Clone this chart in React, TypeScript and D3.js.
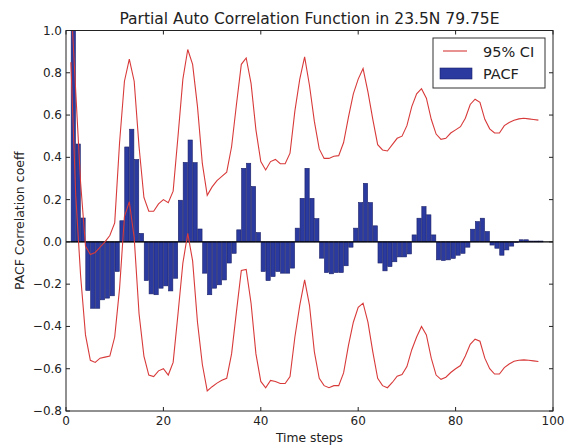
import React from "react";
import * as d3 from "d3";

// PACF values for lags 1..97 (bar spans lag .. lag+1)
const pacf = [
  1.0, 0.463, 0.113, -0.23, -0.314, -0.314, -0.274, -0.266, -0.255, -0.14,
  0.1, 0.449, 0.533, 0.39, 0.04, -0.183, -0.246, -0.25, -0.219, -0.208,
  -0.232, -0.172, 0.197, 0.376, 0.482, 0.375, 0.061, -0.148, -0.25, -0.219,
  -0.203, -0.18, -0.1, -0.054, 0.057, 0.348, 0.372, 0.262, 0.044, -0.14,
  -0.183, -0.164, -0.14, -0.148, -0.148, -0.124, 0.065, 0.206, 0.348, 0.206,
  0.11, -0.077, -0.145, -0.151, -0.145, -0.145, -0.113, -0.025, 0.065, 0.186,
  0.277, 0.186, 0.076, -0.1, -0.137, -0.117, -0.094, -0.071, -0.071, -0.057,
  0.033, 0.112, 0.167, 0.128, 0.033, -0.085, -0.088, -0.085, -0.078, -0.063,
  -0.054, -0.025, 0.06, 0.096, 0.112, 0.049, -0.015, -0.03, -0.063, -0.038,
  -0.02, 0.0, 0.01, 0.01, 0.004, 0.004, 0.004,
];

// 95% CI bounds at x = 1..97
const ciUpper = [
  1.15, 0.71, 0.28, -0.02, -0.06, -0.05, -0.025, 0.0, 0.03, 0.09,
  0.47, 0.76, 0.865, 0.76, 0.45, 0.21, 0.145, 0.145, 0.18, 0.2,
  0.185, 0.24, 0.5, 0.77, 0.91, 0.84, 0.64, 0.37, 0.22, 0.26,
  0.29, 0.31, 0.33, 0.45, 0.65, 0.84, 0.87, 0.75, 0.53, 0.38,
  0.34, 0.38, 0.39, 0.37, 0.37, 0.42, 0.62, 0.77, 0.875, 0.74,
  0.57, 0.44, 0.395, 0.395, 0.405, 0.408, 0.47, 0.59, 0.7, 0.77,
  0.82, 0.71, 0.58, 0.46, 0.435, 0.43, 0.46, 0.49, 0.5, 0.55,
  0.64, 0.7, 0.725, 0.68, 0.58, 0.51, 0.485, 0.49, 0.515, 0.53,
  0.545, 0.585, 0.65, 0.675, 0.66, 0.58, 0.535, 0.515, 0.515, 0.55,
  0.565, 0.575, 0.582, 0.585, 0.582, 0.579, 0.576,
];

const ciLower = [
  0.85, 0.22, -0.16, -0.44, -0.56, -0.57, -0.55, -0.545, -0.54, -0.45,
  -0.22, 0.12, 0.19, 0.02, -0.34, -0.54, -0.63, -0.637, -0.61, -0.6,
  -0.63, -0.57, -0.34, -0.1, 0.04, -0.09, -0.38, -0.58, -0.705, -0.685,
  -0.668, -0.655, -0.645, -0.53, -0.33, -0.135, -0.13, -0.29, -0.53, -0.66,
  -0.69, -0.655, -0.66, -0.67, -0.67, -0.637, -0.45, -0.3, -0.18, -0.3,
  -0.52, -0.645, -0.68, -0.69, -0.68, -0.68, -0.62, -0.49, -0.38, -0.31,
  -0.29, -0.38, -0.52, -0.645, -0.68, -0.69, -0.665, -0.635, -0.627, -0.59,
  -0.51, -0.45, -0.4, -0.44, -0.55, -0.63, -0.65, -0.64, -0.618, -0.6,
  -0.585, -0.54, -0.485, -0.46, -0.47, -0.55, -0.6, -0.625, -0.625, -0.595,
  -0.578, -0.565, -0.56, -0.558, -0.56, -0.563, -0.566,
];

const xTicks = [0, 20, 40, 60, 80, 100];
const yTicks = [-0.8, -0.6, -0.4, -0.2, 0.0, 0.2, 0.4, 0.6, 0.8, 1.0];

const W = 570;
const H = 446;
const left = 66;
const right = 553;
const top = 30.5;
const bottom = 411;
const FONT = "'DejaVu Sans', sans-serif";

export default function App() {
  const x = d3.scaleLinear().domain([0, 100]).range([left, right]);
  const y = d3.scaleLinear().domain([-0.8, 1.0]).range([bottom, top]);

  const line = d3
    .line<number>()
    .x((_, i) => x(i + 1))
    .y((d) => y(d));

  const barW = x(1) - x(0);

  return (
    <svg
      width={W}
      height={H}
      style={{ position: "absolute", left: 0, top: 0, background: "#fff" }}
      fontFamily={FONT}
    >
      <defs>
        <clipPath id="plotClip">
          <rect x={left} y={top} width={right - left} height={bottom - top} />
        </clipPath>
      </defs>
      <rect x={0} y={0} width={W} height={H} fill="#fff" />

      <g clipPath="url(#plotClip)">
        {pacf.map((v, i) => {
          const x0 = x(i + 1);
          const y0 = y(Math.max(0, v));
          const h = Math.abs(y(v) - y(0));
          return (
            <rect
              key={i}
              x={x0 + 0.3}
              y={y0}
              width={barW - 0.6}
              height={Math.max(h, 0.6)}
              fill="#2a3a9e"
              stroke="#1b2168"
              strokeWidth={0.6}
            />
          );
        })}
        <line x1={left} x2={right} y1={y(0)} y2={y(0)} stroke="#000" strokeWidth={1.2} />
        <path d={line(ciUpper) || ""} fill="none" stroke="#d83a3a" strokeWidth={1.1} />
        <path d={line(ciLower) || ""} fill="none" stroke="#d83a3a" strokeWidth={1.1} />
      </g>

      {/* frame */}
      <rect x={left} y={top} width={right - left} height={bottom - top} fill="none" stroke="#222" strokeWidth={1} />

      {/* x ticks */}
      {xTicks.map((t) => (
        <g key={"x" + t}>
          <line x1={x(t)} x2={x(t)} y1={bottom} y2={bottom - 4} stroke="#222" />
          <line x1={x(t)} x2={x(t)} y1={top} y2={top + 4} stroke="#222" />
          <text x={x(t)} y={bottom + 14} textAnchor="middle" fontSize={12} fill="#222">
            {t}
          </text>
        </g>
      ))}

      {/* y ticks */}
      {yTicks.map((t) => (
        <g key={"y" + t}>
          <line x1={left} x2={left + 4} y1={y(t)} y2={y(t)} stroke="#222" />
          <line x1={right} x2={right - 4} y1={y(t)} y2={y(t)} stroke="#222" />
          <text x={left - 4} y={y(t) + 4} textAnchor="end" fontSize={12} fill="#222">
            {t < 0 ? "\u2212" + Math.abs(t).toFixed(1) : t.toFixed(1)}
          </text>
        </g>
      ))}

      {/* title & labels */}
      <text x={(left + right) / 2} y={24} textAnchor="middle" fontSize={15.5} fill="#222">
        Partial Auto Correlation Function in 23.5N 79.75E
      </text>
      <text x={(left + right) / 2} y={442} textAnchor="middle" fontSize={12.3} fill="#222">
        Time steps
      </text>
      <text
        transform={`translate(24, ${(top + bottom) / 2}) rotate(-90)`}
        textAnchor="middle"
        fontSize={12.5}
        fill="#222"
      >
        PACF Correlation coeff
      </text>

      {/* legend */}
      <g>
        <rect x={433} y={38} width={112} height={50} fill="#fff" stroke="#333" strokeWidth={1} />
        <line x1={443} x2={467} y1={51} y2={51} stroke="#d83a3a" strokeWidth={1.1} />
        <text x={483} y={56.5} fontSize={14.5} fill="#222">95% CI</text>
        <rect x={440} y={68} width={32} height={11} fill="#2a3a9e" stroke="#1b2168" strokeWidth={0.6} />
        <text x={483} y={79} fontSize={14.5} fill="#222">PACF</text>
      </g>
    </svg>
  );
}
